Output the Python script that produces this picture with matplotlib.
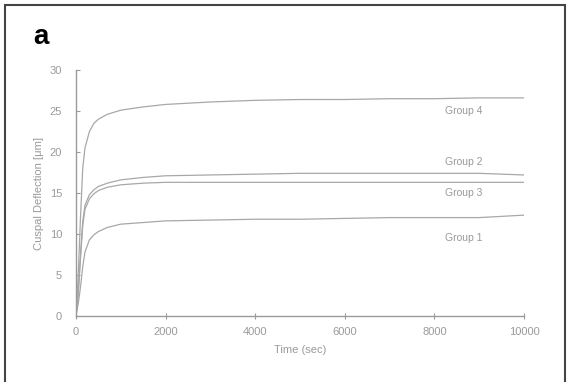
import matplotlib
matplotlib.use("Agg")
import matplotlib.pyplot as plt
from matplotlib.patches import Rectangle

plt.rcParams['font.family'] = ['Liberation Sans', 'DejaVu Sans']

# time points (sec) and cuspal deflection
time = [0, 50, 100, 150, 200, 300, 400, 500, 700, 1000, 1500, 2000, 3000,
        4000, 5000, 6000, 7000, 8000, 9000, 10000]
group1 = [0, 1.5, 3.5, 6.0, 7.8, 9.3, 9.9, 10.3, 10.8, 11.2, 11.4, 11.6, 11.7,
          11.8, 11.8, 11.9, 12.0, 12.0, 12.0, 12.3]
group2 = [0, 3.0, 7.5, 11.5, 13.5, 14.8, 15.4, 15.8, 16.2, 16.6, 16.9, 17.1, 17.2,
          17.3, 17.4, 17.4, 17.4, 17.4, 17.4, 17.2]
group3 = [0, 2.5, 7.0, 11.0, 13.0, 14.3, 14.9, 15.3, 15.7, 16.0, 16.2, 16.3, 16.3,
          16.3, 16.3, 16.3, 16.3, 16.3, 16.3, 16.3]
group4 = [0, 5.0, 12.0, 18.0, 20.5, 22.5, 23.5, 24.0, 24.6, 25.1, 25.5, 25.8, 26.1,
          26.3, 26.4, 26.4, 26.5, 26.5, 26.6, 26.6]
series = [group1, group2, group3, group4]

labels = ["Group 1", "Group 2", "Group 3", "Group 4"]
label_y = [9.5, 18.8, 15.0, 25.0]
label_x = 8650

fig = plt.figure(figsize=(5.68, 3.82), dpi=100)
ax = fig.add_axes([76 / 568, 1 - 316 / 382, (524 - 76) / 568, (316 - 70) / 382])

gray = '#9a9a9a'
for s in series:
    ax.plot(time, s, color='#a8a8a8', lw=0.9)

for lab, ly in zip(labels, label_y):
    ax.text(label_x, ly, lab, fontsize=7.5, color='#999999', ha='center', va='center')

ax.set_xlim(0, 10000)
ax.set_ylim(0, 30)
ax.set_xticks([0, 2000, 4000, 6000, 8000, 10000])
ax.set_yticks([0, 5, 10, 15, 20, 25, 30])
for side in ['top', 'right']:
    ax.spines[side].set_visible(False)
for side in ['left', 'bottom']:
    ax.spines[side].set_color(gray)
    ax.spines[side].set_linewidth(1.0)
ax.tick_params(axis='x', direction='inout', length=4, colors=gray, labelsize=8, pad=6)
ax.tick_params(axis='y', direction='in', length=3, colors=gray, labelsize=8, pad=10)
ax.set_xlabel('Time (sec)', fontsize=8, color=gray, labelpad=6)
ax.set_ylabel('Cuspal Deflection [\u03bcm]', fontsize=8, color=gray, labelpad=4)

fig.text(33 / 568, 1 - 37 / 382, 'a', fontsize=20, fontweight='bold', color='black',
         va='center', ha='left')

# dark frame round the figure (bottom edge cut off)
fig.add_artist(Rectangle((5 / 568, -0.05), 560 / 568, 1.05 - 5 / 382,
                         transform=fig.transFigure, fill=False,
                         edgecolor='#444444', lw=1.5, clip_on=False))

fig.savefig('out.png', dpi=100)
